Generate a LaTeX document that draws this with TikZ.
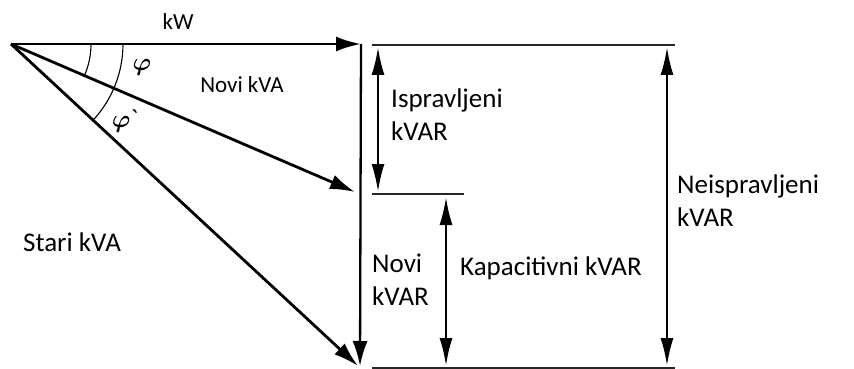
\documentclass[tikz,border=0pt]{standalone}
\usepackage{amsmath}
\usepackage{fontspec}
\setmainfont{Carlito}
\usetikzlibrary{arrows.meta}
\begin{document}
\begin{tikzpicture}[x=1pt,y=-1pt,
  vec/.style={line width=2.8pt,-{Latex[length=25pt,width=15pt]}},
  dimarrow/.style={line width=2.4pt,{Latex[length=28pt,width=13pt]}-{Latex[length=28pt,width=13pt]}},
  refline/.style={line width=1.6pt,draw=black!85},
  arcline/.style={line width=1.1pt},
  big/.style={font=\fontsize{27}{33}\selectfont, align=left, inner sep=0pt, anchor=west},
  small/.style={font=\fontsize{23}{28}\selectfont, inner sep=0pt}]
\useasboundingbox (0,0) rectangle (854,369);
% points
\coordinate (O) at (11,44);
\coordinate (T) at (361,44);
\coordinate (M) at (355,192);
\coordinate (B) at (360,366);
\coordinate (S) at (358,366);
% reference lines
\coordinate (r1a) at (372,45); \coordinate (r1b) at (675,45);
\coordinate (r2a) at (372,194); \coordinate (r2b) at (464,194);
\coordinate (r3a) at (372,368); \coordinate (r3b) at (675,368);
\draw[refline] (r1a) -- (r1b);
\draw[refline] (r2a) -- (r2b);
\draw[refline] (r3a) -- (r3b);
% vectors
\draw[vec] (O) -- (T);
\draw[vec] (O) -- (M);
\draw[vec] (O) -- (S);
\draw[vec,line width=2.3pt] (T) -- (B);
% angle arcs
\draw[arcline] (O) ++(80,0) arc[start angle=0,end angle=23.3,radius=80];
\draw[arcline] (O) ++(112,0) arc[start angle=0,end angle=42.8,radius=112];
% dimension arrows
\coordinate (d1a) at (378,47); \coordinate (d1b) at (378,192);
\coordinate (d2a) at (446,197); \coordinate (d2b) at (446,366);
\coordinate (d3a) at (667,47); \coordinate (d3b) at (667,366);
\draw[dimarrow] (d1a) -- (d1b);
\draw[dimarrow] (d2a) -- (d2b);
\draw[dimarrow] (d3a) -- (d3b);
% labels
\node[small] (kw) at (178,22) {kW};
\node[small] (novikva) at (242,85) {Novi kVA};
\node[small,font=\fontsize{26}{30}\selectfont] (phi) at (142,67) {$\boldsymbol{\varphi}$};
\node[small,font=\fontsize{26}{30}\selectfont] (phi2) at (125,121) {$\boldsymbol{\varphi}$\textasciigrave};
\node[big] (stari) at (23,242) {Stari kVA};
\node[big] (isp) at (391,115) {Ispravljeni\\kVAR};
\node[big] (novikvar) at (372,280) {Novi\\kVAR};
\node[big] (kap) at (460,268) {Kapacitivni kVAR};
\node[big] (neisp) at (677,201) {Neispravljeni\\kVAR};
\end{tikzpicture}
\end{document}
